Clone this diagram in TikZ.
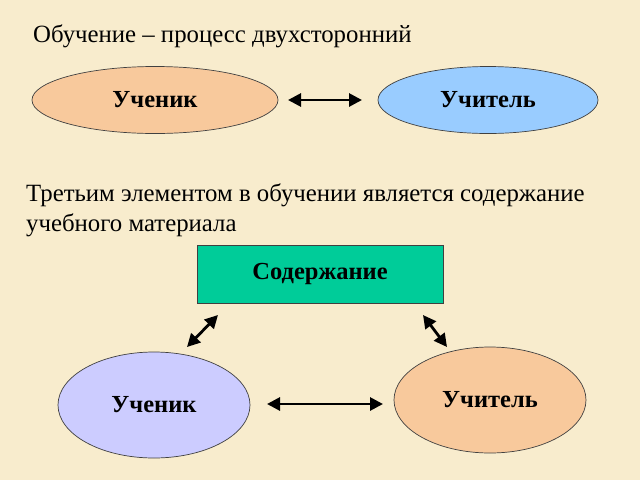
\documentclass[tikz,border=0pt]{standalone}
\usepackage{fontspec}
\setmainfont{Liberation Serif}
\usetikzlibrary{shapes.geometric,arrows.meta}
\definecolor{bg}{HTML}{F8ECCD}
\definecolor{peach}{HTML}{F8C99C}
\definecolor{sky}{HTML}{99CCFF}
\definecolor{lilac}{HTML}{CCCCFF}
\definecolor{teal}{HTML}{00CC99}
\definecolor{edge}{HTML}{404040}
\tikzset{
  oval/.style={ellipse, draw=edge, line width=0.7pt, inner sep=0pt, font=\fontsize{24.5}{28}\selectfont\bfseries},
  boxnode/.style={rectangle, draw=edge, line width=0.7pt, inner sep=0pt, font=\fontsize{24.5}{28}\selectfont\bfseries},
  txt/.style={anchor=base west, inner sep=0pt, font=\fontsize{24.8}{28}\selectfont},
  dbl/.style={line width=2.8pt, {Triangle[length=13pt,width=13pt]}-{Triangle[length=13pt,width=13pt]}}
}
\begin{document}
\begin{tikzpicture}[x=1pt,y=-1pt]
\fill[bg] (0,0) rectangle (640,480);
\useasboundingbox (0,0) rectangle (640,480);
\node[txt] (title) at (33,42) {Обучение – процесс двухсторонний};
\node[oval, fill=peach, minimum width=246pt, minimum height=67pt] (u1) at (155,100) {Ученик};
\node[oval, fill=sky, minimum width=220pt, minimum height=67pt] (t1) at (488,100) {Учитель};
\coordinate (a1) at (288,100);
\coordinate (b1) at (362,100);
\draw[dbl] (a1) -- (b1);
\node[txt] (line1) at (26,201) {Третьим элементом в обучении является содержание};
\node[txt] (line2) at (26,231) {учебного материала};
\node[boxnode, fill=teal, minimum width=246pt, minimum height=58pt] (c) at (320,274) {Содержание};
\node[oval, fill=lilac, minimum width=192pt, minimum height=106pt] (u2) at (154,405) {Ученик};
\node[oval, fill=peach, minimum width=192pt, minimum height=106pt] (t2) at (490,400) {Учитель};
\coordinate (a2) at (218,315);
\coordinate (b2) at (187,347);
\coordinate (a3) at (423,315);
\coordinate (b3) at (447,347);
\coordinate (a4) at (267,404);
\coordinate (b4) at (383,404);
\draw[dbl] (a2) -- (b2);
\draw[dbl] (a3) -- (b3);
\draw[dbl] (a4) -- (b4);
\end{tikzpicture}
\end{document}
